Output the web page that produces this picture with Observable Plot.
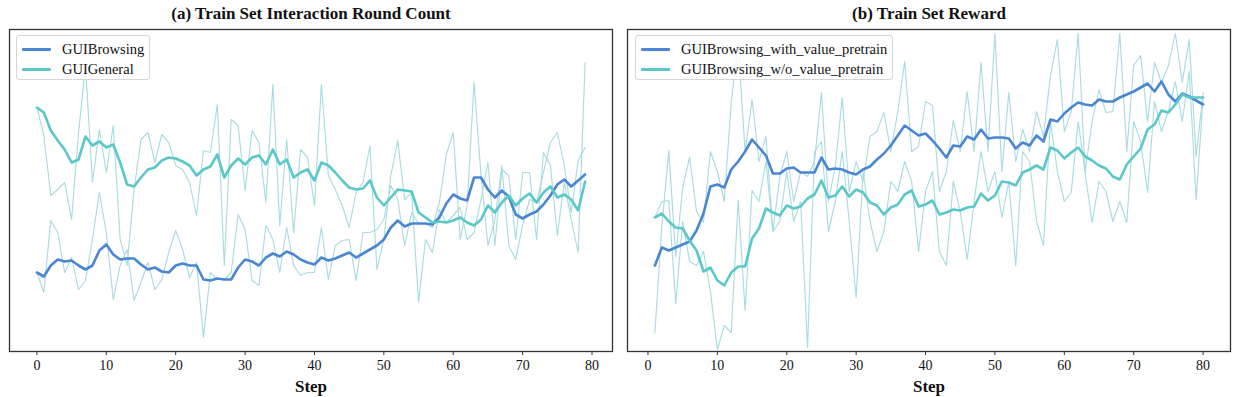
<!DOCTYPE html>
<html>
<head>
<meta charset="utf-8">
<script src="https://cdn.jsdelivr.net/npm/d3@7"></script>
<script src="https://cdn.jsdelivr.net/npm/@observablehq/plot@0.6"></script>
<style>
  html, body { margin: 0; padding: 0; background: #fff; }
  #wrap { position: relative; width: 1236px; height: 397px; font-family: 'Liberation Serif', 'Times New Roman', serif; }
  .panel { position: absolute; top: 0; }
  .legend { position: absolute; border: 1px solid #d6d6d6; border-radius: 3px; background: rgba(255,255,255,0.8); box-sizing: border-box; }
  .legend .row { position: absolute; left: 0; height: 20px; width: 100%; }
  .legend .sw { position: absolute; left: 5px; width: 29px; height: 3px; top: 9px; border-radius: 1px; }
  .legend .lb { position: absolute; left: 45px; top: 1px; font-size: 14.5px; line-height: 18px; color: #111; white-space: nowrap; font-family: 'Liberation Serif', 'Times New Roman', serif; }
</style>
</head>
<body>
<div id="wrap"></div>
<script>
// ---------- data (arbitrary units: height above the bottom of each panel) ----------
const xTicks = [0, 10, 20, 30, 40, 50, 60, 70, 80];

// Panel (a): steps 0..79
const stepsA = d3.range(0, 80);
const browsingSmooth = [79,75,86,92,90,91,86,82,86,101, 107,97,92,93,93,87,82,84,80,79,
  86,88,86,86,72,71,73,72,72,84, 92,90,86,94,98,95,100,97,92,89,
  87,94,91,93,96,99,94,98,102,106, 112,124,131,125,128,128,128,127,134,148,
  157,153,151,174,174,162,154,161,155,137, 133,137,140,147,156,167,172,165,171,177];
const generalSmooth = [244,239,221,211,202,189,192,215,206,210, 204,207,189,167,165,174,182,184,191,194,
  193,190,186,176,182,185,197,174,186,193, 187,194,196,187,202,187,192,174,179,182,
  171,189,186,179,171,164,162,163,171,154, 146,154,162,161,160,139,134,129,130,129,
  131,134,129,126,132,146,139,149,156,146, 153,158,149,159,165,154,157,152,141,170];
const browsingRaw = [79,59,131,119,79,94,62,71,112,159, 119,52,86,102,51,69,89,62,72,99,
  121,102,74,89,14,79,72,72,79,137, 122,71,66,126,112,79,124,86,76,79,
  79,124,72,106,111,112,71,119,119,122, 132,166,152,106,139,128,128,124,149,
  197,219,112,146,269,176,106,132,186,106, 92,126,152,149,179,209,219,186,139,191,204];
const generalRaw = [244,216,156,162,169,132,219,286,169,222, 179,226,112,86,162,212,219,189,217,209,
  186,182,169,136,201,199,247,86,232,226, 161,221,209,149,267,126,212,119,202,194,
  146,267,176,162,146,124,159,169,206,82, 112,176,211,152,159,49,112,99,142,
  129,136,144,112,119,152,189,106,182,176, 112,179,179,112,199,186,116,169,132,99,289];

// Panel (b): steps 1..80
const stepsB = d3.range(1, 81);
const withSmooth = [86,104,101,104,107,110,121,138,165,167, 164,182,190,200,212,204,196,178,178,183,
  184,179,179,179,194,182,183,182,179,177, 182,185,192,198,206,216,226,221,216,218,
  211,203,194,206,205,215,212,222,213,214, 214,213,203,209,206,216,210,232,230,238,
  244,249,247,246,252,250,250,254,257,260, 264,268,260,270,257,250,258,255,251,247];
const woSmooth = [134,138,130,124,123,111,101,80,84,71, 66,79,85,85,113,123,143,139,136,146,
  143,145,153,157,171,154,156,165,155,162, 159,149,146,137,144,147,157,161,145,147,
  151,137,139,142,141,144,145,158,151,156, 170,169,166,179,182,186,182,204,201,193,
  199,204,195,191,186,183,175,172,187,195, 203,222,227,241,239,247,257,254,254,254];
const withRaw = [19,125,201,95,164,194,140,129,200,180, 150,250,308,200,252,190,215,120,175,200,
  150,180,175,190,259,150,185,254,160,190, 170,215,220,239,200,240,290,200,205,250,
  246,160,180,231,200,260,200,289,200,318, 180,259,190,222,200,240,215,276,312,220,
  240,318,179,230,262,239,240,318,200,286, 296,230,289,269,286,318,269,312,195,259];
const woRaw = [134,150,151,48,130,90,86,100,60,2, 26,19,151,41,161,150,190,120,130,180,
  130,150,4,200,210,120,150,200,130,54, 180,130,100,120,170,160,190,170,100,160,
  180,100,86,170,140,92,150,200,160,180, 134,170,86,200,190,130,106,230,180,150,
  159,230,179,129,170,160,130,150,129,230, 210,159,250,220,240,270,230,280,152,254];

const seriesNamesA = ["GUIBrowsing", "GUIGeneral"];
const seriesNamesB = ["GUIBrowsing_with_value_pretrain", "GUIBrowsing_w/o_value_pretrain"];
const titles = ["(a) Train Set Interaction Round Count", "(b) Train Set Reward"];

// ---------- styling ----------
const C_BLUE = "#4a86d1";
const C_TEAL = "#5cc7c9";
const C_RAW1 = "#acdae4";
const C_RAW2 = "#a8dde0";
const FONT = "'Liberation Serif', 'Times New Roman', serif";

function rows(steps, vals) { return steps.map((s, i) => ({step: s, v: vals[i]})); }

function panel({steps, smooth1, smooth2, raw1, raw2, xDomain, title, marginLeft, marginRight}) {
  return Plot.plot({
    width: 618, height: 397,
    marginLeft, marginRight, marginTop: 29, marginBottom: 46,
    x: {domain: xDomain},
    y: {domain: [0, 322], axis: null},
    style: {fontFamily: FONT, fontSize: "14px", color: "#111", background: "white", overflow: "visible"},
    marks: [
      Plot.lineY(rows(steps, raw1), {x: "step", y: "v", stroke: C_RAW1, strokeWidth: 1.15, clip: true}),
      Plot.lineY(rows(steps, raw2), {x: "step", y: "v", stroke: C_RAW2, strokeWidth: 1.15, clip: true}),
      Plot.lineY(rows(steps, smooth1), {x: "step", y: "v", stroke: C_BLUE, strokeWidth: 2.6, clip: true}),
      Plot.lineY(rows(steps, smooth2), {x: "step", y: "v", stroke: C_TEAL, strokeWidth: 2.6, clip: true}),
      Plot.frame({stroke: "#333", strokeWidth: 1.3}),
      Plot.axisX({ticks: xTicks, tickSize: 4, tickPadding: 5, fontSize: 14, fontFamily: FONT, label: null, stroke: "#333", tickFormat: d => String(d)}),
      Plot.text(["Step"], {frameAnchor: "bottom", lineAnchor: "middle", dy: 35, fontWeight: "bold", fontSize: 17, fontFamily: FONT, fill: "#111"}),
      Plot.text([title], {frameAnchor: "top", lineAnchor: "middle", dy: -16, fontWeight: "bold", fontSize: 17, fontFamily: FONT, fill: "#111"})
    ]
  });
}

const wrap = document.getElementById("wrap");

const pA = panel({steps: stepsA, smooth1: browsingSmooth, smooth2: generalSmooth, raw1: browsingRaw, raw2: generalRaw,
  xDomain: [-3.95, 82.95], title: titles[0], marginLeft: 9, marginRight: 6});
pA.classList.add("panel"); pA.style.left = "0px";
wrap.appendChild(pA);

const pB = panel({steps: stepsB, smooth1: withSmooth, smooth2: woSmooth, raw1: withRaw, raw2: woRaw,
  xDomain: [-2.95, 83.95], title: titles[1], marginLeft: 9, marginRight: 6});
pB.classList.add("panel"); pB.style.left = "618px";
wrap.appendChild(pB);

function legend(left, top, width, names) {
  const box = document.createElement("div");
  box.className = "legend";
  box.style.left = left + "px"; box.style.top = top + "px";
  box.style.width = width + "px"; box.style.height = "45px";
  [C_BLUE, C_TEAL].forEach((c, i) => {
    const r = document.createElement("div");
    r.className = "row"; r.style.top = (3 + i * 20) + "px";
    const sw = document.createElement("div"); sw.className = "sw"; sw.style.background = c;
    const lb = document.createElement("div"); lb.className = "lb"; lb.textContent = names[i];
    r.appendChild(sw); r.appendChild(lb); box.appendChild(r);
  });
  wrap.appendChild(box);
}
legend(16, 35, 134, seriesNamesA);
legend(635, 35, 258, seriesNamesB);
</script>
</body>
</html>
